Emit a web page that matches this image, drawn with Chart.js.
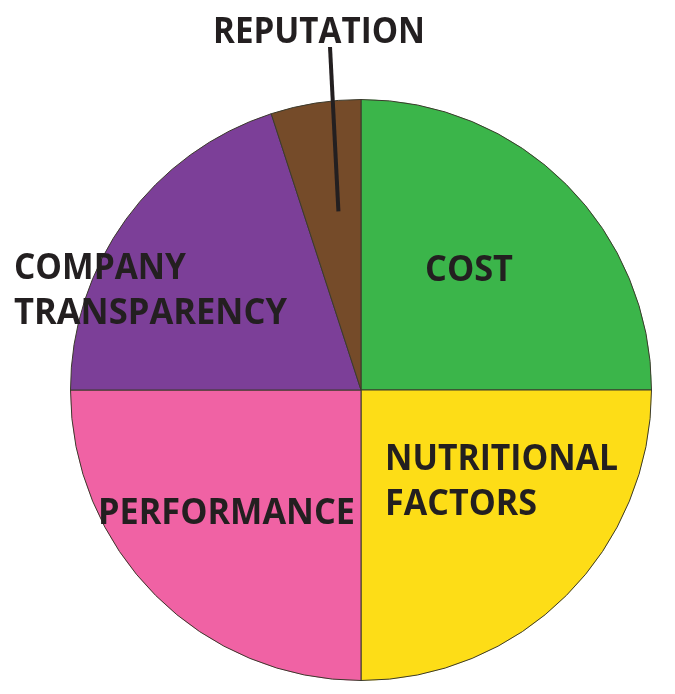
<!DOCTYPE html>
<html>
<head>
<meta charset="utf-8">
<script src="https://cdn.jsdelivr.net/npm/chart.js@4"></script>
<style>
  html, body { margin: 0; padding: 0; background: #fff; }
  #wrap { position: relative; width: 675px; height: 694px; }
</style>
</head>
<body>
<div id="wrap"><canvas id="chart" width="675" height="694"></canvas></div>
<script>
// slices in draw order, clockwise from 12 o'clock
const categories = ['COST', 'NUTRITIONAL FACTORS', 'PERFORMANCE', 'COMPANY TRANSPARENCY', 'REPUTATION'];
const shares = [25, 25, 25, 20, 5];
const sliceColors = ['#3bb54a', '#fddd17', '#f062a4', '#7c3f98', '#754b29'];

// where each label sits (baseline, fitted width)
const labelLayout = [
  { lines: ['COST'], x: 425, y: 281, w: [88] },
  { lines: ['NUTRITIONAL', 'FACTORS'], x: 385, y: 470, w: [233, 152] },
  { lines: ['PERFORMANCE'], x: 98, y: 524, w: [257] },
  { lines: ['COMPANY', 'TRANSPARENCY'], x: 14, y: 279, w: [172, 273] },
  { lines: ['REPUTATION'], x: 213, y: 43, w: [212] }
];
const lineGap = 45;

const labelPlugin = {
  id: 'labels',
  afterDraw(chart) {
    const ctx = chart.ctx;
    ctx.save();
    ctx.fillStyle = '#231f20';
    ctx.font = 'bold 36px "Open Sans"';
    ctx.textBaseline = 'alphabetic';
    labelLayout.forEach((lab) => {
      lab.lines.forEach((txt, j) => {
        const m = ctx.measureText(txt).width;
        ctx.save();
        ctx.translate(lab.x, lab.y + j * lineGap);
        ctx.scale(lab.w[j] / m, 1);
        ctx.fillText(txt, 0, 0);
        ctx.restore();
      });
    });

    // leader from the reputation label down into its slice
    const arc = chart.getDatasetMeta(0).data[4];
    const a = arc.endAngle - 0.4 * (arc.endAngle - arc.startAngle);
    const r = arc.outerRadius * 0.62;
    ctx.strokeStyle = '#231f20';
    ctx.lineWidth = 4;
    ctx.beginPath();
    ctx.moveTo(330, 47);
    ctx.lineTo(arc.x + r * Math.cos(a), arc.y + r * Math.sin(a));
    ctx.stroke();
    ctx.restore();
  }
};

new Chart(document.getElementById('chart'), {
  type: 'pie',
  data: {
    labels: categories,
    datasets: [{
      data: shares,
      backgroundColor: sliceColors,
      borderColor: '#3b3a2c',
      borderWidth: 1
    }]
  },
  options: {
    responsive: false,
    animation: false,
    layout: { padding: { left: 70, top: 99, right: 23, bottom: 13 } },
    plugins: {
      legend: { display: false },
      tooltip: { enabled: false }
    }
  },
  plugins: [labelPlugin]
});
</script>
</body>
</html>
